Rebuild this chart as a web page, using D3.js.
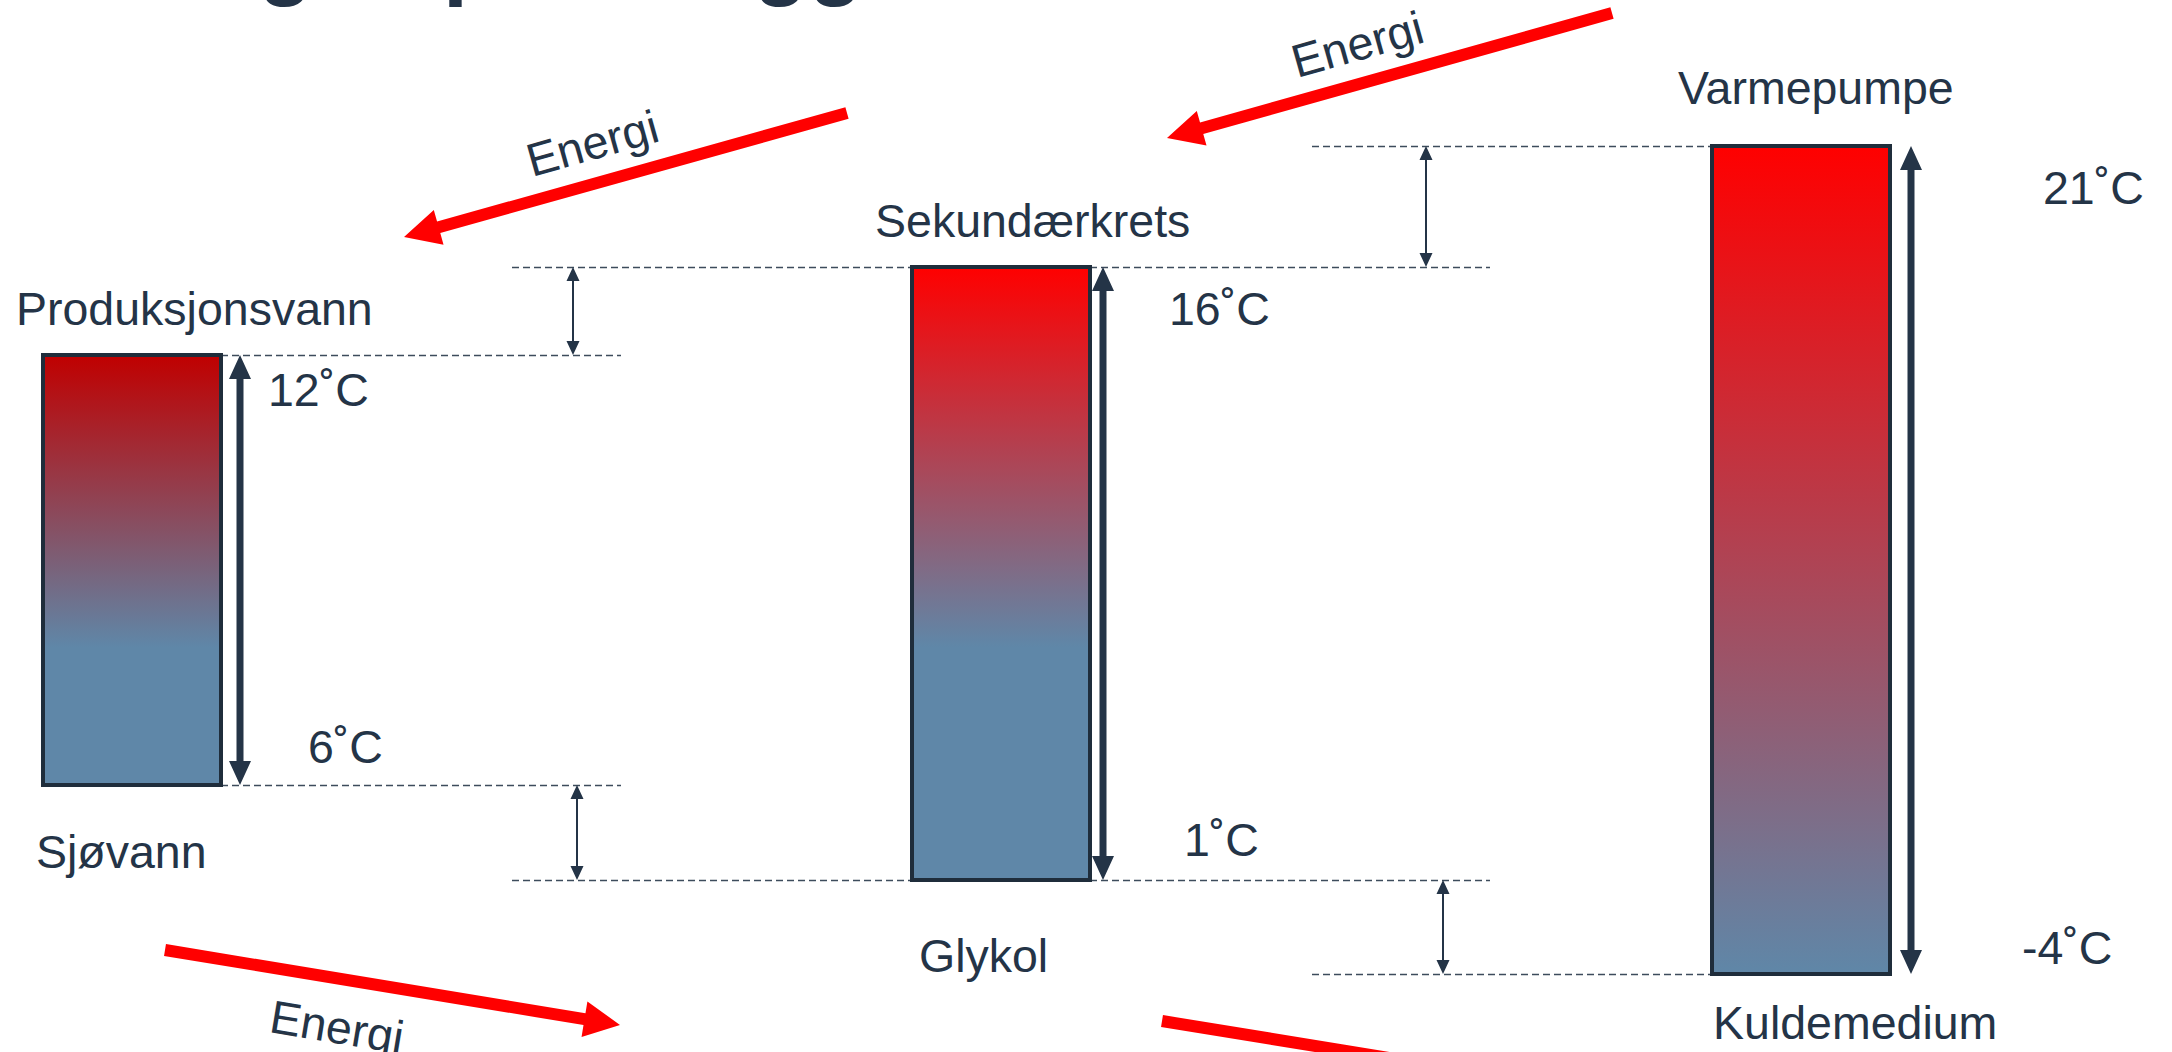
<!DOCTYPE html>
<html>
<head>
<meta charset="utf-8">
<script src="https://cdn.jsdelivr.net/npm/d3@7"></script>
<style>
  html, body { margin: 0; padding: 0; background: #fff; overflow: hidden; }
  svg { display: block; }
  text { font-family: "Liberation Sans", Arial, sans-serif; }
</style>
</head>
<body>
<svg id="chart" width="2172" height="1052"></svg>
<script>
// ---- Data: temperature levels per circuit ----
const circuits    = ["Produksjonsvann", "Sekundærkrets", "Varmepumpe"];
const mediums     = ["Sjøvann", "Glykol", "Kuldemedium"];
const supplyTemps = [12, 16, 21];
const returnTemps = [6, 1, -4];
const energyText  = "Energi";
const titleText   = "Hevingen på anlegget";

// ---- Layout ----
const W = 2172, H = 1052;
const ink = "#243447";
const red = "#ff0000";
const fontSize = 46.5;

const svg = d3.select("#chart");

// Schematic temperature axis: the levels are spaced for readability, not to scale
const levelTemps = [21, 16, 12, 6, 1, -4];
const y = d3.scaleLinear()
  .domain(levelTemps)
  .range([146, 267, 355, 785, 880, 974]);

const x = d3.scaleOrdinal().domain(circuits).range([43, 912, 1712]);
const barW = 178;

// label placement per circuit
const nameX   = [16, 875, 1678],  nameDy   = [-30, -30, -42];
const medX    = [36, 919, 1713],  medDy    = [83, 92, 65];
const hiX     = [268, 1169, 2043], hiDy    = [51, 58, 58];
const loX     = [308, 1184, 2022], loDy    = [-22, -24, -10];
const rangeArrowX = [240, 1103, 1911];
const gapArrowX = [[573, 577], [1426, 1443]];   // [upper, lower] between neighbours
const dashReach = 400;

// gradient stops per bar: [offset, colour]
const gradStops = [
  [[0, "#c00000"], [0.68, "#5f87a8"], [1, "#5f87a8"]],
  [[0, "#ff0000"], [0.62, "#5f87a8"], [1, "#5f87a8"]],
  [[0, "#ff0000"], [1, "#5f87a8"]]
];

const data = circuits.map((c, i) => ({
  name: c, medium: mediums[i], hi: supplyTemps[i], lo: returnTemps[i], i
}));

// ---- Title (only the bottom of the heading sits inside the frame) ----
svg.append("text")
  .attr("x", 13).attr("y", -12)
  .attr("font-size", 90).attr("font-weight", "bold")
  .attr("fill", ink)
  .text(titleText);

// ---- Gradients ----
const defs = svg.append("defs");
data.forEach(d => {
  const g = defs.append("linearGradient")
    .attr("id", "grad" + d.i)
    .attr("x1", 0).attr("y1", 0).attr("x2", 0).attr("y2", 1);
  gradStops[d.i].forEach(s => g.append("stop").attr("offset", s[0]).attr("stop-color", s[1]));
});

// ---- Dashed level lines ----
const dashG = svg.append("g")
  .attr("stroke", "#3d4c5c").attr("stroke-width", 1.3)
  .attr("stroke-dasharray", "7,4").attr("fill", "none");
data.forEach(d => {
  const left = x(d.name), right = left + barW;
  [d.hi, d.lo].forEach(t => {
    const yy = Math.round(y(t)) + 0.5;
    if (d.i < circuits.length - 1)
      dashG.append("line").attr("x1", right).attr("x2", right + dashReach).attr("y1", yy).attr("y2", yy);
    if (d.i > 0)
      dashG.append("line").attr("x1", left - dashReach).attr("x2", left).attr("y1", yy).attr("y2", yy);
  });
});

// ---- Arrow helpers ----
function doubleArrow(g, cx, y1, y2, shaftW, headW, headL) {
  const p = d3.path();
  p.moveTo(cx, y1);
  p.lineTo(cx + headW / 2, y1 + headL);
  p.lineTo(cx + shaftW / 2, y1 + headL);
  p.lineTo(cx + shaftW / 2, y2 - headL);
  p.lineTo(cx + headW / 2, y2 - headL);
  p.lineTo(cx, y2);
  p.lineTo(cx - headW / 2, y2 - headL);
  p.lineTo(cx - shaftW / 2, y2 - headL);
  p.lineTo(cx - shaftW / 2, y1 + headL);
  p.lineTo(cx - headW / 2, y1 + headL);
  p.closePath();
  g.append("path").attr("d", p.toString()).attr("fill", ink);
}

function flowArrow(g, x0, y0, x1, y1, shaftW, headW, headL) {
  const dx = x1 - x0, dy = y1 - y0, len = Math.hypot(dx, dy);
  const ux = dx / len, uy = dy / len, nx = -uy, ny = ux;
  const bx = x1 - ux * headL, by = y1 - uy * headL;
  const pts = [
    [x0 + nx * shaftW / 2, y0 + ny * shaftW / 2],
    [bx + nx * shaftW / 2, by + ny * shaftW / 2],
    [bx + nx * headW / 2, by + ny * headW / 2],
    [x1, y1],
    [bx - nx * headW / 2, by - ny * headW / 2],
    [bx - nx * shaftW / 2, by - ny * shaftW / 2],
    [x0 - nx * shaftW / 2, y0 - ny * shaftW / 2]
  ];
  g.append("path").attr("d", d3.line()(pts) + "Z").attr("fill", red);
}

// ---- Small gap arrows between neighbouring circuits ----
const gapG = svg.append("g");
for (let i = 0; i < circuits.length - 1; i++) {
  doubleArrow(gapG, gapArrowX[i][0], y(supplyTemps[i + 1]), y(supplyTemps[i]), 2, 13, 14);
  doubleArrow(gapG, gapArrowX[i][1], y(returnTemps[i]), y(returnTemps[i + 1]), 2, 13, 14);
}

// ---- Bars ----
svg.append("g").selectAll("rect").data(data).join("rect")
  .attr("x", d => x(d.name))
  .attr("y", d => y(d.hi))
  .attr("width", barW)
  .attr("height", d => y(d.lo) - y(d.hi))
  .attr("fill", d => `url(#grad${d.i})`)
  .attr("stroke", "#1f2d3b")
  .attr("stroke-width", 4);

// ---- Temperature range arrows ----
const rangeG = svg.append("g");
data.forEach(d => doubleArrow(rangeG, rangeArrowX[d.i], y(d.hi), y(d.lo), 7, 22, 24));

// ---- Labels ----
const labelG = svg.append("g").attr("fill", ink).attr("font-size", fontSize);
labelG.selectAll(".name").data(data).join("text").attr("class", "name")
  .attr("x", d => nameX[d.i]).attr("y", d => y(d.hi) + nameDy[d.i]).text(d => d.name);
labelG.selectAll(".medium").data(data).join("text").attr("class", "medium")
  .attr("x", d => medX[d.i]).attr("y", d => y(d.lo) + medDy[d.i]).text(d => d.medium);
labelG.selectAll(".hi").data(data).join("text").attr("class", "hi")
  .attr("x", d => hiX[d.i]).attr("y", d => y(d.hi) + hiDy[d.i]).text(d => d.hi + "˚C");
labelG.selectAll(".lo").data(data).join("text").attr("class", "lo")
  .attr("x", d => loX[d.i]).attr("y", d => y(d.lo) + loDy[d.i]).text(d => d.lo + "˚C");

// ---- Energy flow arrows ----
const flows = [
  { from: [847, 113],  to: [404, 237],   label: [532, 177],  angle: -15.7 },
  { from: [1612, 13],  to: [1167, 138],  label: [1297, 78],  angle: -15.7 },
  { from: [165, 950],  to: [620, 1025],  label: [268, 1032], angle: 9.4 },
  { from: [1162, 1021], to: [1616, 1095], label: [1265, 1108], angle: 9.3 }
];
const flowG = svg.append("g");
flows.forEach(f => {
  flowArrow(flowG, f.from[0], f.from[1], f.to[0], f.to[1], 12, 36, 36);
  flowG.append("text")
    .attr("transform", `translate(${f.label[0]},${f.label[1]}) rotate(${f.angle})`)
    .attr("font-size", fontSize).attr("fill", ink)
    .text(energyText);
});
</script>
</body>
</html>
